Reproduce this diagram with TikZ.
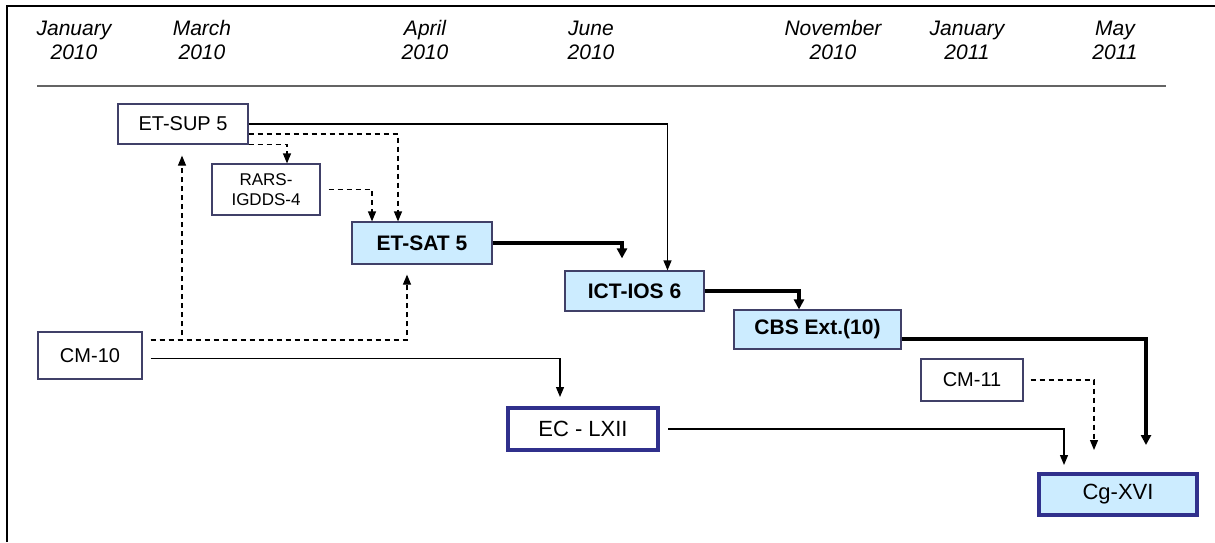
\documentclass[tikz,border=0pt]{standalone}
\usepackage{fontspec}
\setmainfont{Liberation Sans}
\usepackage{xcolor}
\usepackage{tikz}
\usetikzlibrary{arrows.meta, positioning, calc}

\definecolor{boxedge}{RGB}{64,64,104}
\definecolor{paleblue}{RGB}{204,236,255}
\definecolor{navyedge}{RGB}{48,48,140}
\definecolor{rulegray}{RGB}{100,100,100}

\begin{document}
\begin{tikzpicture}[
        x=0.5pt, y=-0.5pt,
        datelabel/.style={align=center, inner sep=0pt, font=\fontsize{10.5}{12}\selectfont\itshape},
        plainbox/.style={rectangle, draw=boxedge, fill=white, line width=0.6pt, inner sep=1pt, font=\fontsize{10}{12}\selectfont},
        smallbox/.style={plainbox, align=center, font=\fontsize{8.5}{10}\selectfont},
        keybox/.style={rectangle, draw=boxedge, fill=paleblue, line width=0.6pt, inner sep=1pt, font=\fontsize{10.5}{12}\selectfont\bfseries},
        sessionbox/.style={rectangle, draw=navyedge, line width=2pt, inner sep=1pt, font=\fontsize{11}{13}\selectfont},
        flow/.style={-{Triangle[width=4pt,length=5pt]}, line width=0.6pt},
        dashflow/.style={flow, dash pattern=on 2.5pt off 2pt},
        mainflow/.style={-{Triangle[width=5pt,length=5pt]}, line width=1.6pt}
    ]
        \useasboundingbox (0,0) rectangle (1215,542);

        % Frame and timeline header
        \draw[line width=1.3pt] (7,542) -- (7,6) -- (1215,6);
        \draw[rulegray, line width=1.2pt] (37,86) -- (1166,86);

        \node[datelabel] (jan10) at (74,40) {January\\2010};
        \node[datelabel] (mar10) at (202,40) {March\\2010};
        \node[datelabel] (apr10) at (425,40) {April\\2010};
        \node[datelabel] (jun10) at (591,40) {June\\2010};
        \node[datelabel] (nov10) at (833,40) {November\\2010};
        \node[datelabel] (jan11) at (967,40) {January\\2011};
        \node[datelabel] (may11) at (1115,40) {May\\2011};

        % Sessions
        \node[plainbox, minimum width=65pt, minimum height=20pt] (etsup) at (183,124) {ET-SUP 5};
        \node[smallbox, minimum width=54pt, minimum height=25.5pt] (rars) at (266,189.5) {RARS-\\IGDDS-4};
        \node[keybox, minimum width=70pt, minimum height=21pt] (etsat) at (422,243) {ET-SAT 5};
        \node[keybox, minimum width=69.5pt, minimum height=20pt] (ictios) at (634.5,291) {ICT-IOS 6};
        \node[keybox, minimum width=83.5pt, minimum height=19.5pt] (cbs) at (817.5,329.5) {CBS Ext.(10)};
        \node[plainbox, minimum width=52pt, minimum height=23.5pt] (cm10) at (90,355.5) {CM-10};
        \node[sessionbox, fill=white, minimum width=75pt, minimum height=21pt] (ec) at (583,429) {EC - LXII};
        \node[plainbox, minimum width=51pt, minimum height=21pt] (cm11) at (972,380) {CM-11};
        \node[sessionbox, fill=paleblue, minimum width=79pt, minimum height=20.5pt] (cg) at (1118,494.5) {Cg-XVI};

        % Inputs
        \draw[flow] (etsup.east) -| ([xshift=16.5pt]ictios.north);
        \draw[dashflow] ([yshift=-5pt]etsup.east) -| ([xshift=-12pt]etsat.north);
        \draw[dashflow] (etsup.south east) -| ([xshift=10.5pt]rars.north);
        \draw[dashflow, shorten <=4pt] (rars.east) -| ([xshift=-25pt]etsat.north);
        \draw[dashflow, shorten <=4pt, shorten >=5pt] ([yshift=7.75pt]cm10.east) -| ([xshift=-7.5pt]etsat.south);
        \draw[dashflow, shorten <=4pt, shorten >=5.5pt] ([yshift=7.75pt]cm10.east) -| ([xshift=-0.5pt]etsup.south);
        \draw[flow, shorten <=4pt, shorten >=4.5pt] ([yshift=-1.5pt]cm10.east) -| ([xshift=-11.5pt]ec.north);
        \draw[flow, shorten <=4pt, shorten >=3.5pt] (ec.east) -| ([xshift=-27pt]cg.north);
        \draw[dashflow, shorten <=3.5pt, shorten >=11pt] (cm11.east) -| ([xshift=-12pt]cg.north);

        % Main sequence
        \draw[mainflow, shorten >=6pt] (etsat.east) -| ([xshift=-6.25pt]ictios.north);
        \draw[mainflow] (ictios.east) -| ([xshift=-9.25pt]cbs.north);
        \draw[mainflow, shorten >=13.5pt] ([yshift=-4.75pt]cbs.east) -| ([xshift=14pt]cg.north);
    \end{tikzpicture}
\end{document}
